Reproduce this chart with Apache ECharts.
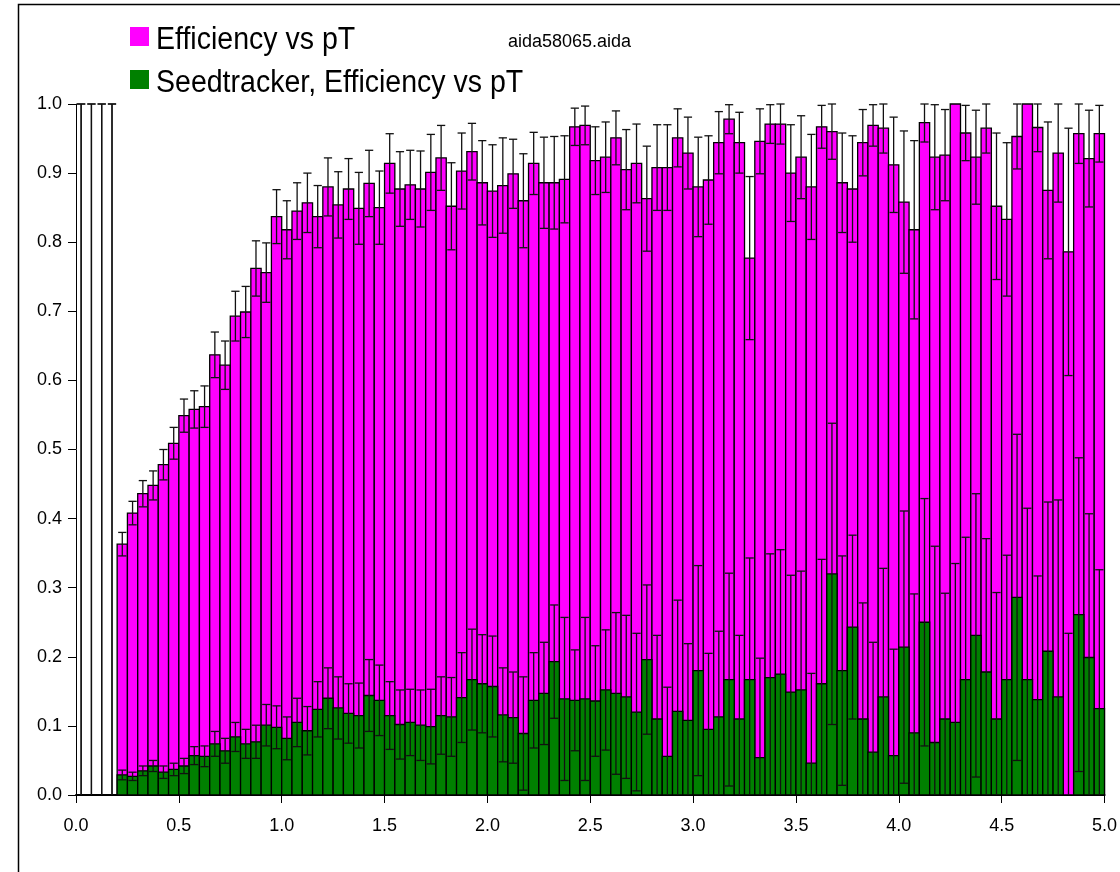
<!DOCTYPE html>
<html>
<head>
<meta charset="utf-8">
<title>Efficiency vs pT</title>
<script src="https://cdn.jsdelivr.net/npm/echarts@6/dist/echarts.min.js"></script>
<style>
  html, body { margin: 0; padding: 0; background: #ffffff; }
  #chart { width: 1120px; height: 872px; }
</style>
</head>
<body>
<div id="chart"></div>
<script>
// Histogram binning in pT
const binStart = 0.0;
const binWidth = 0.05;

// Efficiency vs pT (first four bins are empty: 0 +- 1)
const effValues = [
  0, 0, 0, 0,
  0.363, 0.408, 0.436, 0.448, 0.478, 0.509, 0.549, 0.558, 0.562, 0.637,
  0.622, 0.693, 0.699, 0.762, 0.756, 0.837, 0.818, 0.845, 0.857, 0.837,
  0.880, 0.854, 0.877, 0.849, 0.885, 0.850, 0.914, 0.877, 0.883, 0.877,
  0.901, 0.922, 0.852, 0.903, 0.931, 0.886, 0.874, 0.882, 0.899, 0.860,
  0.914, 0.886, 0.886, 0.891, 0.967, 0.969, 0.918, 0.923, 0.951, 0.905,
  0.914, 0.863, 0.908, 0.908, 0.951, 0.929, 0.880, 0.890, 0.944, 0.978,
  0.944, 0.777, 0.946, 0.971, 0.971, 0.900, 0.923, 0.880, 0.967, 0.960,
  0.886, 0.877, 0.944, 0.969, 0.965, 0.912, 0.858, 0.818, 0.973, 0.923,
  0.926, 1.000, 0.958, 0.923, 0.965, 0.852, 0.833, 0.953, 1.000, 0.966,
  0.875, 0.929, 0.786, 0.957, 0.921, 0.957
];
const effErrors = [
  1, 1, 1, 1,
  0.017, 0.017, 0.019, 0.021, 0.022, 0.023, 0.024, 0.027, 0.030, 0.033,
  0.035, 0.036, 0.037, 0.040, 0.043, 0.039, 0.042, 0.041, 0.043, 0.045,
  0.042, 0.048, 0.044, 0.052, 0.048, 0.053, 0.043, 0.054, 0.050, 0.055,
  0.055, 0.047, 0.063, 0.055, 0.041, 0.061, 0.067, 0.069, 0.050, 0.068,
  0.045, 0.066, 0.067, 0.063, 0.027, 0.028, 0.049, 0.051, 0.039, 0.058,
  0.057, 0.076, 0.062, 0.062, 0.042, 0.052, 0.072, 0.064, 0.045, 0.021,
  0.044, 0.118, 0.047, 0.028, 0.029, 0.070, 0.060, 0.076, 0.031, 0.040,
  0.072, 0.077, 0.048, 0.030, 0.036, 0.069, 0.103, 0.129, 0.028, 0.076,
  0.066, 0.000, 0.040, 0.068, 0.036, 0.106, 0.111, 0.047, 0.000, 0.035,
  0.099, 0.071, 0.179, 0.043, 0.070, 0.041
];

// Seedtracker, Efficiency vs pT
const seedValues = [
  0, 0, 0, 0,
  0.029, 0.027, 0.035, 0.042, 0.033, 0.037, 0.042, 0.057, 0.056, 0.074,
  0.064, 0.084, 0.074, 0.077, 0.101, 0.098, 0.082, 0.105, 0.093, 0.124,
  0.140, 0.126, 0.118, 0.115, 0.144, 0.137, 0.115, 0.102, 0.105, 0.101,
  0.099, 0.115, 0.113, 0.141, 0.167, 0.161, 0.157, 0.116, 0.112, 0.089,
  0.137, 0.147, 0.193, 0.139, 0.137, 0.139, 0.136, 0.152, 0.147, 0.142,
  0.120, 0.196, 0.110, 0.056, 0.121, 0.108, 0.180, 0.095, 0.113, 0.167,
  0.110, 0.167, 0.054, 0.170, 0.175, 0.149, 0.152, 0.046, 0.161, 0.320,
  0.180, 0.243, 0.110, 0.062, 0.142, 0.057, 0.214, 0.090, 0.250, 0.076,
  0.110, 0.105, 0.167, 0.231, 0.178, 0.110, 0.167, 0.286, 0.167, 0.138,
  0.208, 0.142, 0.000, 0.261, 0.199, 0.125
];
const seedErrors = [
  1, 1, 1, 1,
  0.007, 0.006, 0.007, 0.008, 0.009, 0.009, 0.011, 0.013, 0.015, 0.018,
  0.018, 0.021, 0.021, 0.024, 0.030, 0.031, 0.031, 0.035, 0.035, 0.040,
  0.044, 0.045, 0.043, 0.047, 0.052, 0.051, 0.049, 0.050, 0.048, 0.051,
  0.054, 0.056, 0.057, 0.065, 0.073, 0.071, 0.073, 0.068, 0.066, 0.082,
  0.069, 0.074, 0.082, 0.118, 0.073, 0.118, 0.080, 0.087, 0.117, 0.118,
  0.114, 0.108, 0.121, 0.100, 0.161, 0.111, 0.152, 0.110, 0.124, 0.154,
  0.121, 0.176, 0.144, 0.179, 0.180, 0.169, 0.172, 0.130, 0.180, 0.218,
  0.166, 0.133, 0.168, 0.159, 0.186, 0.154, 0.197, 0.201, 0.179, 0.284,
  0.182, 0.230, 0.206, 0.205, 0.193, 0.183, 0.180, 0.236, 0.248, 0.179,
  0.216, 0.285, 0.234, 0.227, 0.208, 0.201
];

// Axis tick labels
const xTicks = ['0.0', '0.5', '1.0', '1.5', '2.0', '2.5', '3.0', '3.5', '4.0', '4.5', '5.0'];
const yTicks = ['0.0', '0.1', '0.2', '0.3', '0.4', '0.5', '0.6', '0.7', '0.8', '0.9', '1.0'];

const legendNames = ['Efficiency vs pT', 'Seedtracker, Efficiency vs pT'];
const fileName = 'aida58065.aida';

const MAGENTA = '#ff00ff';
const GREEN = '#008000';
const FONT = '"Liberation Sans", Arial, sans-serif';

function toRows(values, errors) {
  return values.map((v, i) => [binStart + i * binWidth, v, errors[i]]);
}
const effRows = toRows(effValues, effErrors);
const seedRows = toRows(seedValues, seedErrors);

// filled histogram bin with a dark outline
function barRenderer(fill) {
  return function (params, api) {
    const x0 = api.value(0);
    const v = api.value(1);
    if (!(v > 0)) return null;
    const pTop = api.coord([x0, v]);
    const pBot = api.coord([x0 + binWidth, 0]);
    return {
      type: 'rect',
      shape: { x: pTop[0], y: pTop[1], width: pBot[0] - pTop[0], height: pBot[1] - pTop[1] },
      style: { fill: fill, stroke: '#000000', lineWidth: 1.3 }
    };
  };
}

// symmetric error bar, clipped to the [0, 1] efficiency range
function errorRenderer(params, api) {
  const x0 = api.value(0);
  const v = api.value(1);
  const e = api.value(2);
  if (!(e > 0)) return null;
  const lo = Math.max(0, v - e);
  const hi = Math.min(1, v + e);
  const xc = x0 + binWidth / 2;
  const pHi = api.coord([xc, hi]);
  const pLo = api.coord([xc, lo]);
  const half = (api.coord([x0 + binWidth, 0])[0] - api.coord([x0, 0])[0]) * 0.4;
  const st = { stroke: '#111111', lineWidth: 1.3 };
  const children = [
    { type: 'line', shape: { x1: pHi[0], y1: pHi[1], x2: pLo[0], y2: pLo[1] }, style: st },
    { type: 'line', shape: { x1: pHi[0] - half, y1: pHi[1], x2: pHi[0] + half, y2: pHi[1] }, style: st }
  ];
  if (v - e > 0) {
    children.push({ type: 'line', shape: { x1: pLo[0] - half, y1: pLo[1], x2: pLo[0] + half, y2: pLo[1] }, style: st });
  }
  return { type: 'group', children: children };
}

const chart = echarts.init(document.getElementById('chart'), null, { renderer: 'canvas' });

chart.setOption({
  animation: false,
  backgroundColor: '#ffffff',
  grid: { left: 76, right: 15, top: 104, bottom: 77, containLabel: false },
  xAxis: {
    type: 'value', min: 0, max: 5, interval: 0.5,
    axisLine: { show: true, lineStyle: { color: '#000000', width: 2 } },
    axisTick: { show: true, length: 8, lineStyle: { color: '#000000', width: 1 } },
    axisLabel: {
      margin: 22, color: '#000000', fontFamily: FONT, fontSize: 18,
      formatter: (val) => xTicks[Math.round(val / 0.5)]
    },
    splitLine: { show: false }
  },
  yAxis: {
    type: 'value', min: 0, max: 1, interval: 0.1,
    axisLine: { show: true, lineStyle: { color: '#000000', width: 1 } },
    axisTick: { show: true, length: 8, lineStyle: { color: '#000000', width: 1 } },
    axisLabel: {
      margin: 14, color: '#000000', fontFamily: FONT, fontSize: 18,
      formatter: (val) => yTicks[Math.round(val / 0.1)]
    },
    splitLine: { show: false }
  },
  series: [
    { name: legendNames[0], type: 'custom', renderItem: barRenderer(MAGENTA), data: effRows, z: 2 },
    { name: legendNames[1], type: 'custom', renderItem: barRenderer(GREEN), data: seedRows, z: 3 },
    { name: legendNames[0] + ' errors', type: 'custom', renderItem: errorRenderer, data: effRows, z: 4 },
    { name: legendNames[1] + ' errors', type: 'custom', renderItem: errorRenderer, data: seedRows, z: 5 }
  ],
  graphic: [
    // outer frame
    { type: 'rect', left: 16, top: 2, shape: { width: 1120, height: 880 },
      style: { fill: 'none', stroke: '#000000', lineWidth: 1.5 }, silent: true },
    // legend
    { type: 'rect', left: 130, top: 27, shape: { width: 19, height: 19 }, style: { fill: MAGENTA } },
    { type: 'text', left: 156, top: 25, scaleX: 0.92,
      style: { text: legendNames[0], fill: '#000000', font: '31px ' + FONT } },
    { type: 'rect', left: 130, top: 70, shape: { width: 19, height: 19 }, style: { fill: GREEN } },
    { type: 'text', left: 156, top: 68, scaleX: 0.92,
      style: { text: legendNames[1], fill: '#000000', font: '31px ' + FONT } },
    { type: 'text', left: 508, top: 33,
      style: { text: fileName, fill: '#000000', font: '18px ' + FONT } }
  ]
});
</script>
</body>
</html>
